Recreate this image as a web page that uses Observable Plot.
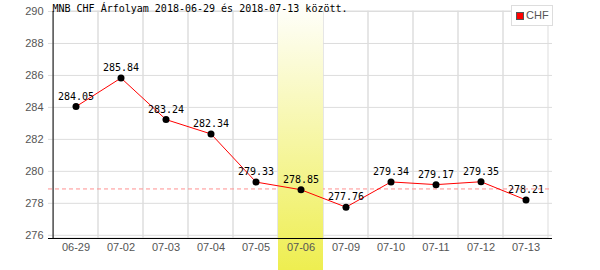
<!DOCTYPE html>
<html>
<head>
<meta charset="utf-8">
<script src="https://cdn.jsdelivr.net/npm/d3@7"></script>
<script src="https://cdn.jsdelivr.net/npm/@observablehq/plot@0.6"></script>
<style>
  html, body { margin: 0; padding: 0; background: #fff; }
  #wrap { position: relative; width: 600px; height: 270px; }
  #legend { position: absolute; left: 511px; top: 5px; width: 40px; height: 19px;
    border: 1px solid #ddd; background: #fff; font: 11px "Liberation Sans", Arial, sans-serif; color: #555; }
  #legend .sw { position: absolute; left: 4px; top: 6px; width: 6px; height: 6px; background: #f00; border: 1px solid #555; }
  #legend .lb { position: absolute; left: 14px; top: 3px; }
</style>
</head>
<body>
<div id="wrap"><div id="legend"><span class="sw"></span><span class="lb">CHF</span></div></div>
<script>
const dates = ["06-29","07-02","07-03","07-04","07-05","07-06","07-09","07-10","07-11","07-12","07-13"];
const values = [284.05, 285.84, 283.24, 282.34, 279.33, 278.85, 277.76, 279.34, 279.17, 279.35, 278.21];
const yTicks = [276, 278, 280, 282, 284, 286, 288, 290];
const refLine = 278.9;
const highlight = "07-06";
const title = "MNB CHF Árfolyam 2018-06-29 és 2018-07-13 között.";
const seriesName = "CHF";

const W = 600, H = 270, mt = 11, mb = 32, ml = 48, mr = 48;
const yMin = 275.8, yMax = 290;
const ppu = (H - mt - mb) / (yMax - yMin);
const yTopExt = yMax + mt / ppu;
const yBotExt = yMin - mb / ppu;
const bw = (W - ml - mr) / dates.length;

const data = dates.map((d, i) => ({date: d, value: values[i]}));

const chart = Plot.plot({
  width: W, height: H,
  marginTop: mt, marginBottom: mb, marginLeft: ml, marginRight: mr,
  style: {color: "#555", fontFamily: "'Liberation Sans', Arial, sans-serif", fontSize: "11px", background: "#fff"},
  x: {type: "band", domain: dates, padding: 0, axis: null},
  y: {domain: [yMin, yMax], axis: null},
  marks: [
    Plot.barY(dates, {x: d => d, y1: yMin, y2: yMax, fill: "none", stroke: "#ddd", insetLeft: 0, insetRight: 0}),
    Plot.ruleY(yTicks, {stroke: "#ddd"}),
    Plot.ruleY([refLine], {stroke: "#ff9090", strokeDasharray: "4,3"}),
    Plot.barY([highlight], {x: d => d, y1: yTopExt, y2: yBotExt, fill: "url(#hlgrad)", insetLeft: 0, insetRight: 0}),
    Plot.ruleX([dates[0]], {x: d => d, y1: yMin, y2: yMax, dx: -bw / 2, stroke: "#000"}),
    Plot.ruleY([yMin], {stroke: "#000"}),
    Plot.axisY({ticks: yTicks, tickSize: 0, tickPadding: 5, tickFormat: d => d, fontSize: 11, label: null}),
    Plot.axisX({tickSize: 0, tickPadding: 5, fontSize: 11, label: null}),
    Plot.line(data, {x: "date", y: "value", stroke: "#f00", strokeWidth: 1}),
    Plot.dot(data, {x: "date", y: "value", r: 3.5, fill: "#000"}),
    Plot.text(data, {x: "date", y: "value", text: d => d.value.toFixed(2), dy: -7, lineAnchor: "bottom", fill: "#000", fontFamily: "'DejaVu Sans Mono', monospace", fontSize: 10}),
    Plot.text([title], {frameAnchor: "top-left", dx: 4, dy: 0, lineAnchor: "bottom", textAnchor: "start", fill: "#000", fontFamily: "'DejaVu Sans Mono', monospace", fontSize: 10})
  ]
});

const ns = "http://www.w3.org/2000/svg";
const defs = document.createElementNS(ns, "defs");
defs.innerHTML = '<linearGradient id="hlgrad" x1="0" y1="0" x2="0" y2="1"><stop offset="0" stop-color="#ffffff"/><stop offset="1" stop-color="#eeee50"/></linearGradient>';
chart.insertBefore(defs, chart.firstChild);
document.getElementById("wrap").insertBefore(chart, document.getElementById("legend"));
</script>
</body>
</html>
